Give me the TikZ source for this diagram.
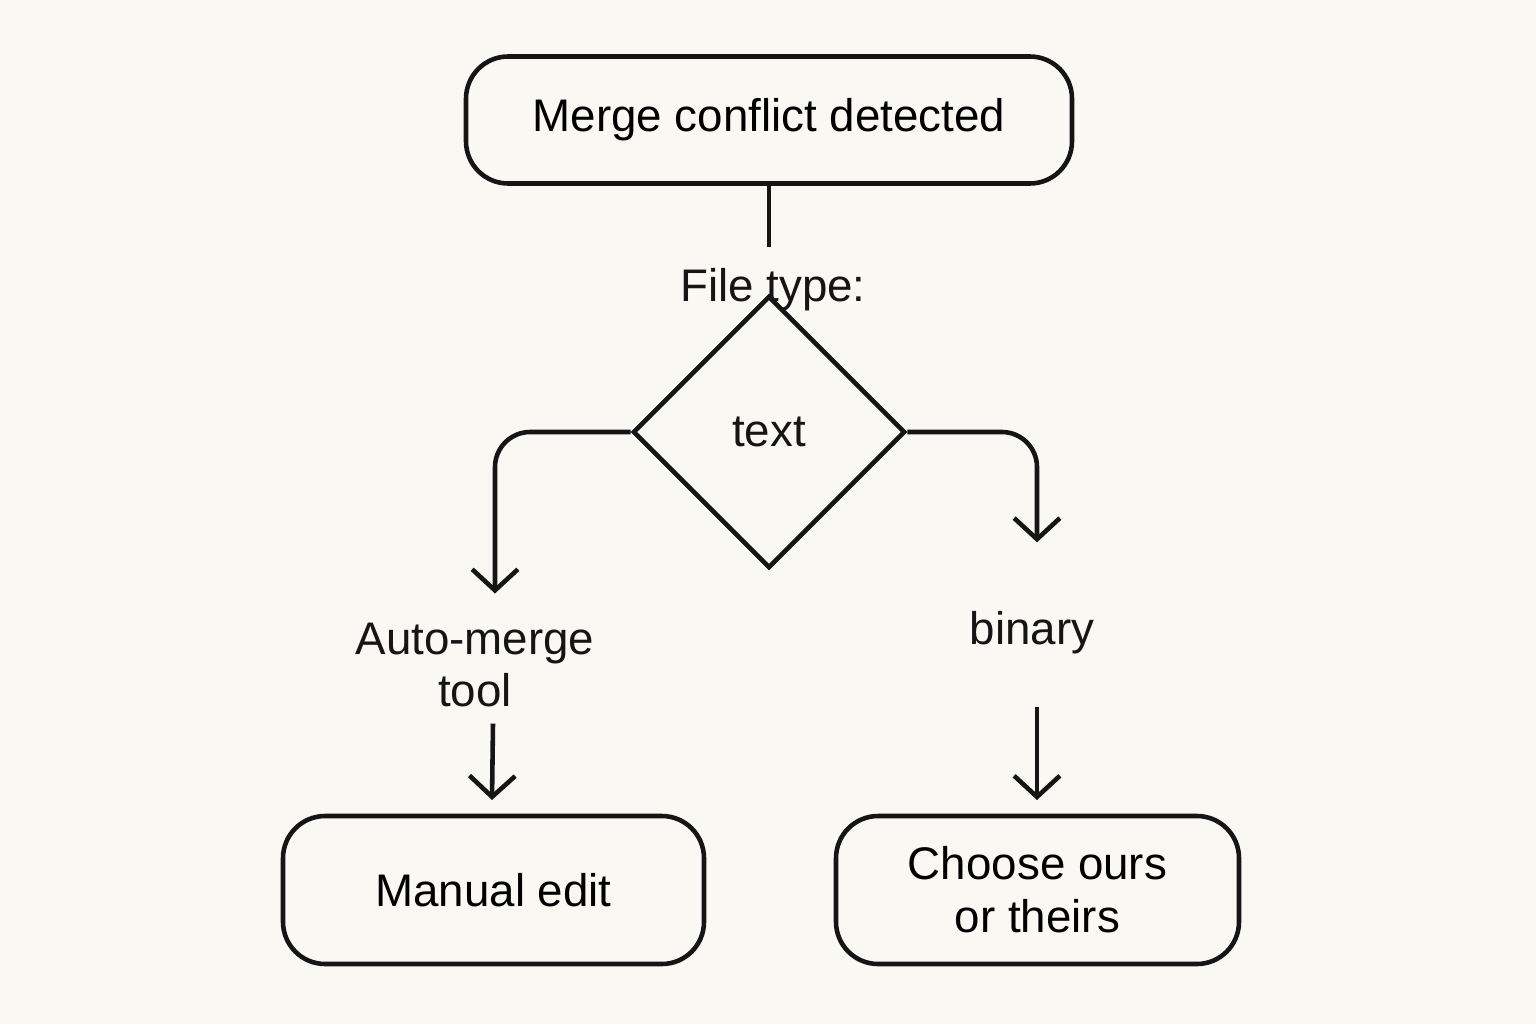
\documentclass[tikz,border=0pt]{standalone}
\usepackage{fontspec}
\setmainfont{Liberation Sans}
\usetikzlibrary{shapes.geometric,arrows.meta}
\definecolor{paper}{HTML}{FAF8F3}
\definecolor{ink}{HTML}{151515}

\begin{document}
\begin{tikzpicture}[
		box/.style={draw=ink, line width=1.3pt, rounded corners=12pt, align=center, font=\fontsize{13}{15}\selectfont},
		lbl/.style={align=center, font=\fontsize{13}{15}\selectfont, text=ink},
		link/.style={draw=ink, line width=1.3pt},
		arr/.style={link, -{Straight Barb[length=6pt, width=13pt, line width=1.3pt]}}
	]
			% page
			\fill[paper] (0,0) rectangle (15.36,10.24);
			\useasboundingbox (0,0) rectangle (15.36,10.24);

			% nodes
			\node[box, minimum width=6.06cm, minimum height=1.27cm] (conflict) at (7.69,9.04) {Merge conflict detected};
			\node[lbl] (ftype) at (7.73,7.34) {File type:};
			\node[diamond, draw=ink, line width=1.3pt, minimum size=2.72cm, inner sep=0pt, lbl] (text) at (7.69,5.92) {text};
			\node[lbl, inner sep=1pt] (auto) at (4.75,3.59) {Auto-merge\\tool};
			\node[lbl] (binary) at (10.32,3.91) {binary};
			\node[box, minimum width=4.21cm, minimum height=1.48cm] (manual) at (4.935,1.34) {Manual edit};
			\node[box, minimum width=4.03cm, minimum height=1.48cm] (choose) at (10.375,1.34) {Choose ours\\or theirs};

			% connectors
			\draw[link] (conflict.south) -- ++(0,-0.61);
			\draw[arr, rounded corners=10pt] (text.west) -| ([xshift=0.2cm, yshift=0.25cm]auto.north);
			\draw[arr, rounded corners=10pt] (text.east) -| ([xshift=0.05cm, yshift=0.57cm]binary.north);
			\draw[arr] ([xshift=0.18cm, yshift=-0.12cm]auto.south) -- ([xshift=-0.015cm]manual.north |- 0,2.24);
			\draw[arr] ([xshift=0.05cm, yshift=-0.4cm]binary.south) -- ([xshift=0.05cm, yshift=-0.5cm]binary.south |- 0,2.74);
		\end{tikzpicture}
\end{document}
